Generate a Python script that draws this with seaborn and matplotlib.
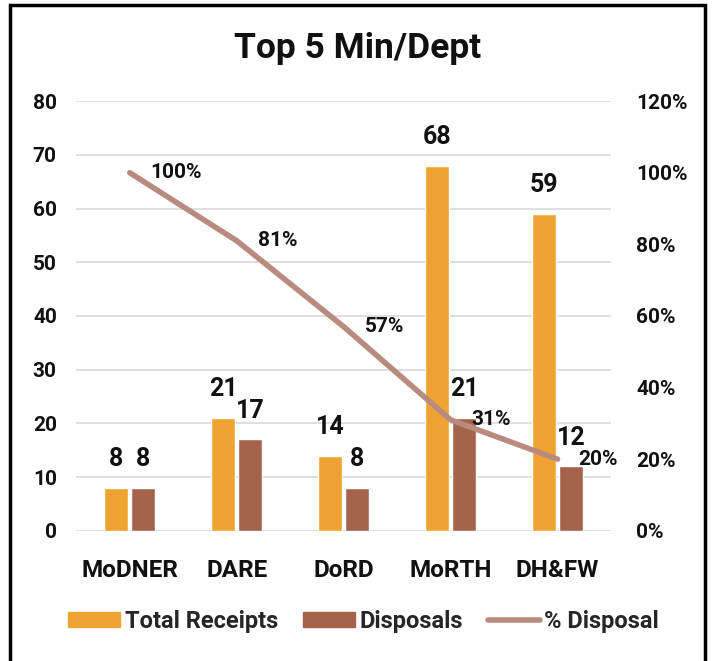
import matplotlib
matplotlib.use("Agg")
import matplotlib.pyplot as plt
import seaborn as sns
import pandas as pd
from matplotlib.patches import Rectangle
from matplotlib.lines import Line2D
from matplotlib.patches import Patch

categories = ["MoDNER", "DARE", "DoRD", "MoRTH", "DH&FW"]
total_receipts = [8, 21, 14, 68, 59]
disposals = [8, 17, 8, 21, 12]
pct_disposal = [100, 81, 57, 31, 20]
left_ticks = [0, 10, 20, 30, 40, 50, 60, 70, 80]
right_ticks = [0, 20, 40, 60, 80, 100, 120]
title = "Top 5 Min/Dept"

c_orange = "#EEA333"
c_brown = "#A5634B"
c_line = "#B98B7E"

sns.set_theme(style="white")
plt.rcParams['font.family'] = ['Roboto', 'DejaVu Sans']
plt.rcParams['font.weight'] = 'bold'

df = pd.DataFrame({
    "cat": categories * 2,
    "val": total_receipts + disposals,
    "series": ["Total Receipts"] * 5 + ["Disposals"] * 5,
})

fig = plt.figure(figsize=(7.13, 6.61), dpi=100)
ax = fig.add_axes([0.107, 0.197, 0.75, 0.650])

sns.barplot(data=df, x="cat", y="val", hue="series", order=categories,
            hue_order=["Total Receipts", "Disposals"],
            palette=[c_orange, c_brown], width=0.505, gap=0.11,
            legend=False, ax=ax, saturation=1)

for cont in ax.containers:
    ax.bar_label(cont, padding=12, fontsize=18, fontweight='bold', color='#111111')

ax.set_ylim(0, 80)
ax.set_xlim(-0.5, 4.5)
ax.set_yticks(left_ticks)
ax.yaxis.grid(True, color="#D9D9D9", linewidth=1.2)
ax.set_axisbelow(True)
for s in ax.spines.values():
    s.set_visible(False)
ax.set_xlabel("")
ax.set_ylabel("")
ax.tick_params(axis='y', labelsize=15, pad=14, length=0, labelcolor='#111111')
ax.tick_params(axis='x', labelsize=17.5, pad=20, length=0, labelcolor='#111111')

ax2 = ax.twinx()
xs = list(range(len(categories)))
sns.lineplot(x=xs, y=pct_disposal, ax=ax2, color=c_line, linewidth=4,
             solid_capstyle='round', solid_joinstyle='round', legend=False)
ax2.set_ylim(0, 120)
ax2.set_yticks(right_ticks)
ax2.set_yticklabels([f"{t}%" for t in right_ticks])
ax2.tick_params(axis='y', labelsize=15, pad=18, length=0, labelcolor='#111111')
for s in ax2.spines.values():
    s.set_visible(False)
ax2.set_ylabel("")
ax2.grid(False)
for x, p in zip(xs, pct_disposal):
    ax2.annotate(f"{p}%", (x, p), xytext=(15, 0), textcoords='offset points',
                 ha='left', va='center', fontsize=15, fontweight='bold', color='#111111')

fig.text(0.502, 0.927, title, ha='center', va='center', fontsize=25.5, fontweight='bold', color='#111111')

handles = [Patch(color=c_orange), Patch(color=c_brown),
           Line2D([0], [0], color=c_line, linewidth=4, solid_capstyle='round')]
fig.legend(handles, ["Total Receipts", "Disposals", "% Disposal"], loc='center',
           bbox_to_anchor=(0.51, 0.06), ncol=3, frameon=False, fontsize=17,
           handlelength=2.2, handleheight=0.6, columnspacing=1.05, handletextpad=0.2)

fig.patches.append(Rectangle((0.014, -0.05), 0.975, 1.042, transform=fig.transFigure,
                             fill=False, edgecolor='black', linewidth=2.5))

fig.savefig("out.png", dpi=100)
